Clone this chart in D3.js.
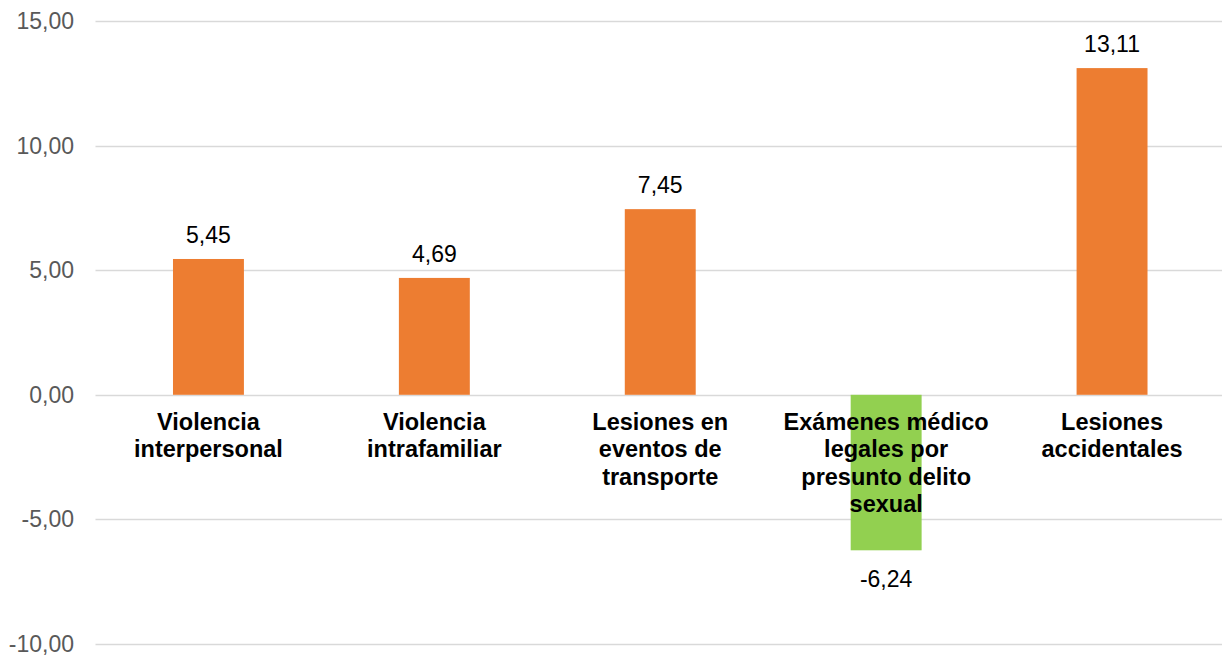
<!DOCTYPE html>
<html>
<head>
<meta charset="utf-8">
<script src="https://cdn.jsdelivr.net/npm/d3@7"></script>
<style>
  body { margin: 0; background: #fff; }
  text { font-family: "Liberation Sans", Arial, sans-serif; }
</style>
</head>
<body>
<div id="chart"></div>
<script>
// categories (line breaks as in the original chart)
const categories = [
    "Violencia\ninterpersonal",
    "Violencia\nintrafamiliar",
    "Lesiones en\neventos de\ntransporte",
    "Exámenes médico\nlegales por\npresunto delito\nsexual",
    "Lesiones\naccidentales"
];
const values = [5.45, 4.69, 7.45, -6.24, 13.11];
const yTicks = [-10, -5, 0, 5, 10, 15];

const width = 1222, height = 656;
const margin = { top: 21, right: -3, bottom: 12, left: 95.5 };

// comma decimals, plain hyphen for negatives
const fmt = v => d3.format(".2f")(v).replace(".", ",").replace("\u2212", "-");

const svg = d3.select("#chart")
    .append("svg")
    .attr("width", width)
    .attr("height", height);

const x = d3.scaleBand()
    .domain(categories)
    .range([margin.left, width - margin.right])
    .paddingInner(0.686)
    .paddingOuter(0.343);

const y = d3.scaleLinear()
    .domain([-10, 15])
    .range([height - margin.bottom, margin.top]);

// gridlines
svg.append("g")
    .selectAll("line")
    .data(yTicks)
    .join("line")
    .attr("x1", margin.left)
    .attr("x2", width)
    .attr("y1", d => Math.round(y(d)) + 0.5)
    .attr("y2", d => Math.round(y(d)) + 0.5)
    .attr("stroke", "#d9d9d9")
    .attr("stroke-width", 1.3);

// y tick labels
svg.append("g")
    .selectAll("text")
    .data(yTicks)
    .join("text")
    .attr("x", 74)
    .attr("y", d => y(d))
    .attr("dy", "0.35em")
    .attr("text-anchor", "end")
    .attr("font-size", 23)
    .attr("fill", "#595959")
    .text(d => fmt(d));

// bars
svg.append("g")
    .selectAll("rect")
    .data(values)
    .join("rect")
    .attr("x", (d, i) => x(categories[i]))
    .attr("width", x.bandwidth())
    .attr("y", d => y(Math.max(0, d)))
    .attr("height", d => Math.abs(y(d) - y(0)))
    .attr("fill", d => d < 0 ? "#92d050" : "#ed7d31");

// value labels
svg.append("g")
    .selectAll("text")
    .data(values)
    .join("text")
    .attr("x", (d, i) => x(categories[i]) + x.bandwidth() / 2)
    .attr("y", d => d >= 0 ? y(d) - 16 : y(d) + 37)
    .attr("text-anchor", "middle")
    .attr("font-size", 23)
    .attr("fill", "#000")
    .text(d => fmt(d));

// category labels
const cat = svg.append("g")
    .selectAll("text")
    .data(categories)
    .join("text")
    .attr("x", d => x(d) + x.bandwidth() / 2)
    .attr("y", y(0) + 35)
    .attr("text-anchor", "middle")
    .attr("font-size", 23.5)
    .attr("font-weight", "bold")
    .attr("fill", "#000");

cat.selectAll("tspan")
    .data(d => d.split("\n").map(line => ({ line, x: x(d) + x.bandwidth() / 2 })))
    .join("tspan")
    .attr("x", d => d.x)
    .attr("dy", (d, i) => i === 0 ? 0 : 27.5)
    .text(d => d.line);
</script>
</body>
</html>
